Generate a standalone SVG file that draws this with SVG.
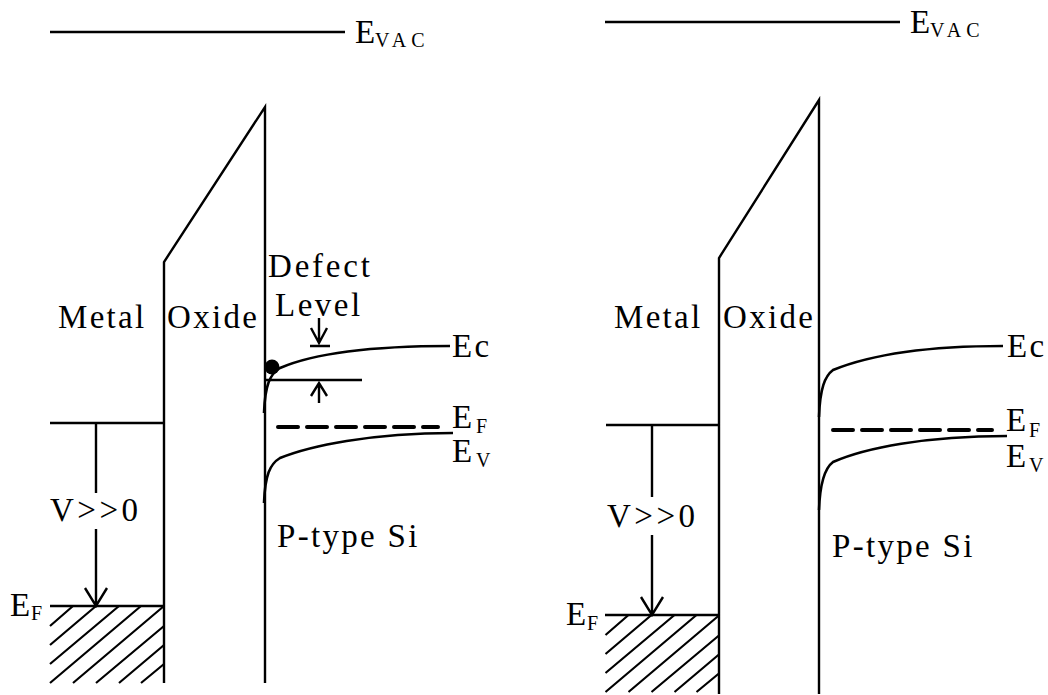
<svg xmlns="http://www.w3.org/2000/svg" width="1048" height="695" viewBox="0 0 1048 695">
<style>
.l{fill:none;stroke:#000;stroke-width:2.4}
.h{fill:none;stroke:#000;stroke-width:2.2}
.c{fill:none;stroke:#000;stroke-width:2.6}
.d{fill:none;stroke:#000;stroke-width:4;stroke-dasharray:20 9;stroke-linecap:round}
text{font-family:"Liberation Serif","Times New Roman",serif;font-size:33px;fill:#000;letter-spacing:2.3px}
.s{font-size:20px;letter-spacing:0}
.vac{font-size:20px;letter-spacing:5px}
.v{letter-spacing:3.5px}
</style>
<defs>
<path id="hatch" class="h" d="M50 626L73 606M50 645L96 606M50 664L119 606M50 683L141 606M73 683L164 606M96 683L164 626M119 683L164 645M141 683L164 664"/>
</defs>
<g id="connectors">
<path class="l" d="M50 32H345M50 423H164M50 606H164M164 683V262L265 107V683"/>
<path class="l" d="M96 423V493M96 529V606M85 588L96 606L107 588"/>
<use href="#hatch"/>
<path class="c" d="M264 413C265 385 270 374 280 368C310 355 360 346 450 346"/>
<path class="c" d="M264 503C265 475 270 464 280 458C310 446 370 433 453 433"/>
<path class="d" d="M278 427H438"/>
<path class="l" d="M265 380H362M310 346H330"/>
<path class="l" d="M319 318V343M311 328L319 343L327 328M319 403V383M311 396L319 383L327 396"/>
<path class="l" d="M605 22H900M606 425H719M605 615H719M719 694V258L819 100V694"/>
<path class="l" d="M652 425V497M652 535V615M641 597L652 615L663 597"/>
<use href="#hatch" transform="translate(555.5 9)"/>
<path class="c" d="M819 417C820 388 825 376 833 370C865 357 915 346 1003 346"/>
<path class="c" d="M819 510C820 482 825 468 833 462C865 448 925 436 1007 436"/>
<path class="d" d="M833 430H992"/>
</g>
<g id="left-labels">
<text x="355" y="43">E</text><text class="vac" x="375" y="47">VAC</text>
<text x="58" y="328">Metal</text>
<text x="167" y="328">Oxide</text>
<text x="268" y="277" style="letter-spacing:2.8px">Defect</text>
<text x="275" y="316" style="letter-spacing:2.5px">Level</text>
<text x="452" y="357">Ec</text>
<text x="452" y="428">E</text><text class="s" x="476" y="433">F</text>
<text x="452" y="462">E</text><text class="s" x="476" y="467">V</text>
<text class="v" x="50" y="521">V&gt;&gt;0</text>
<text x="10" y="616">E</text><text class="s" x="31" y="620">F</text>
<text x="277" y="547">P-type Si</text>
<circle id="electron" cx="272" cy="367" r="7.5"/>
</g>
<g id="right-labels">
<text x="910" y="33">E</text><text class="vac" x="930" y="37">VAC</text>
<text x="614" y="328">Metal</text>
<text x="723" y="328">Oxide</text>
<text x="1007" y="357">Ec</text>
<text x="1006" y="431">E</text><text class="s" x="1029" y="437">F</text>
<text x="1006" y="467">E</text><text class="s" x="1029" y="472">V</text>
<text class="v" x="607" y="527">V&gt;&gt;0</text>
<text x="566" y="625">E</text><text class="s" x="587" y="630">F</text>
<text x="832" y="557">P-type Si</text>
</g>
</svg>
